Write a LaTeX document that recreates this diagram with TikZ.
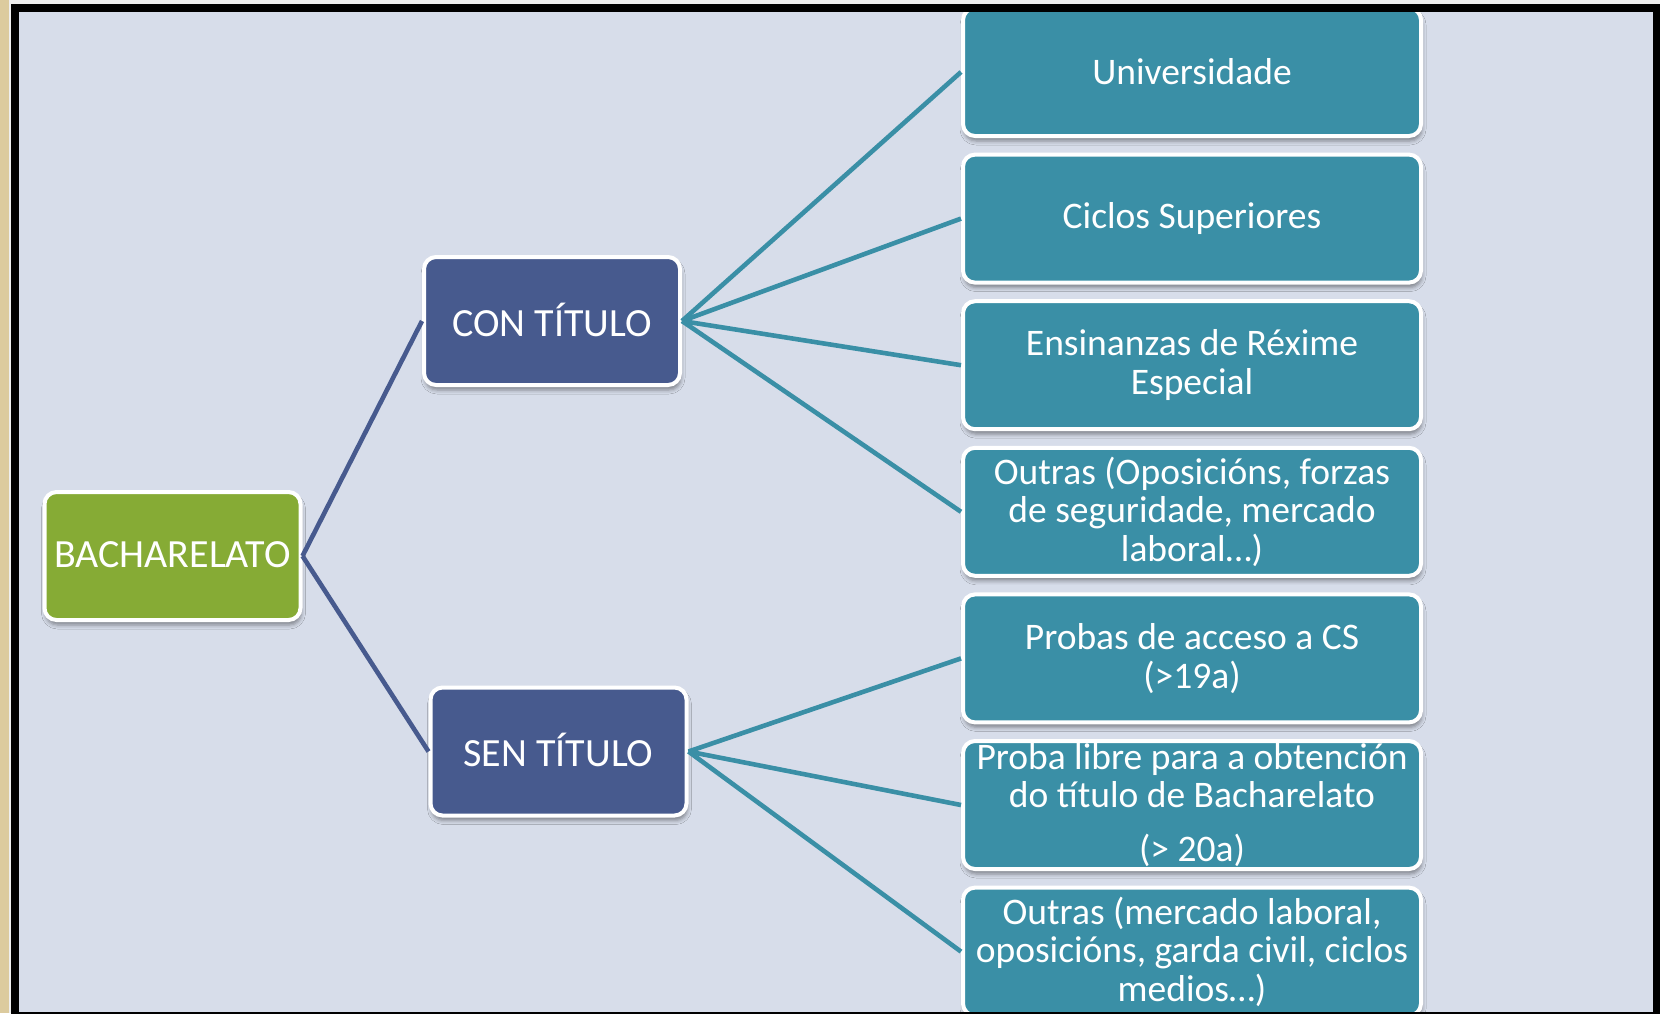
\documentclass[tikz,border=0pt]{standalone}
\usepackage{fontspec}
\setmainfont{Carlito}
\usepackage{tikz}
\usetikzlibrary{positioning}
\usetikzlibrary{shadows.blur}

\definecolor{slide}{HTML}{D7DDEA}
\definecolor{beige}{HTML}{DCCB9E}
\definecolor{edgegrey}{HTML}{EEEEEE}
\definecolor{navy}{HTML}{475A8E}
\definecolor{tealbox}{HTML}{3A8FA6}
\definecolor{bachgreen}{HTML}{86AB35}

\begin{document}
\begin{tikzpicture}[x=1pt,y=-1pt,node distance=14.6pt,
    main node/.style={rectangle,rounded corners=12pt,draw=white,line width=4pt,text=white,align=center,inner ysep=0pt,
        font=\fontsize{37.5}{38.5}\selectfont,
        blur shadow={shadow xshift=1pt,shadow yshift=-5pt,shadow blur radius=4pt,shadow opacity=40}},
    title node/.style={minimum width=256pt,minimum height=128pt,font=\fontsize{40}{42}\selectfont,text depth=3pt},
    route node/.style={minimum width=458pt,minimum height=128pt,fill=tealbox},
    link/.style={line width=4.6pt}]

    \useasboundingbox (0,0) rectangle (1660,1013);
    \fill[edgegrey] (0,0) rectangle (1660,1013);
    \fill[beige] (0,0) rectangle (9,1013);
    \fill[slide] (19,12) rectangle (1653,1013);

		\node[main node][title node][fill = bachgreen](1) at (172.5,556){BACHARELATO};
		\node[main node][title node][fill = navy](2)[above right = 103pt and 119.5pt of 1]{CON TÍTULO};
		\node[main node][title node][fill = navy](3)[below right = 63.5pt and 126pt of 1]{SEN TÍTULO};
		\node[main node][route node](4)[above right = 117pt and 279pt of 2]{Universidade};
		\node[main node][route node](5)[below = of 4]{Ciclos Superiores};
		\node[main node][route node](6)[below = of 5]{Ensinanzas de Réxime\\Especial};
		\node[main node][route node](7)[below = of 6]{Outras (Oposicións, forzas\\de seguridade, mercado\\laboral…)};
		\node[main node][route node](8)[below = of 7]{Probas de acceso a CS\\(>19a)};
		\node[main node][route node][inner ysep = -5pt](9)[below = of 8]{Proba libre para a obtención\\do título de Bacharelato\\[15pt](> 20a)};
		\node[main node][route node](10)[below = of 9]{Outras (mercado laboral,\\oposicións, garda civil, ciclos\\medios…)};

		\path (1.east) edge [link, draw = navy] (2.west);
		\path (1.east) edge [link, draw = navy] (3.west);
		\path (2.east) edge [link, draw = tealbox] (4.west);
		\path (2.east) edge [link, draw = tealbox] (5.west);
		\path (2.east) edge [link, draw = tealbox] (6.west);
		\path (2.east) edge [link, draw = tealbox] (7.west);
		\path (3.east) edge [link, draw = tealbox] (8.west);
		\path (3.east) edge [link, draw = tealbox] (9.west);
		\path (3.east) edge [link, draw = tealbox] (10.west);

    \draw[line width=8pt] (15,8) rectangle (1656.5,1016);

	\end{tikzpicture}
\end{document}
